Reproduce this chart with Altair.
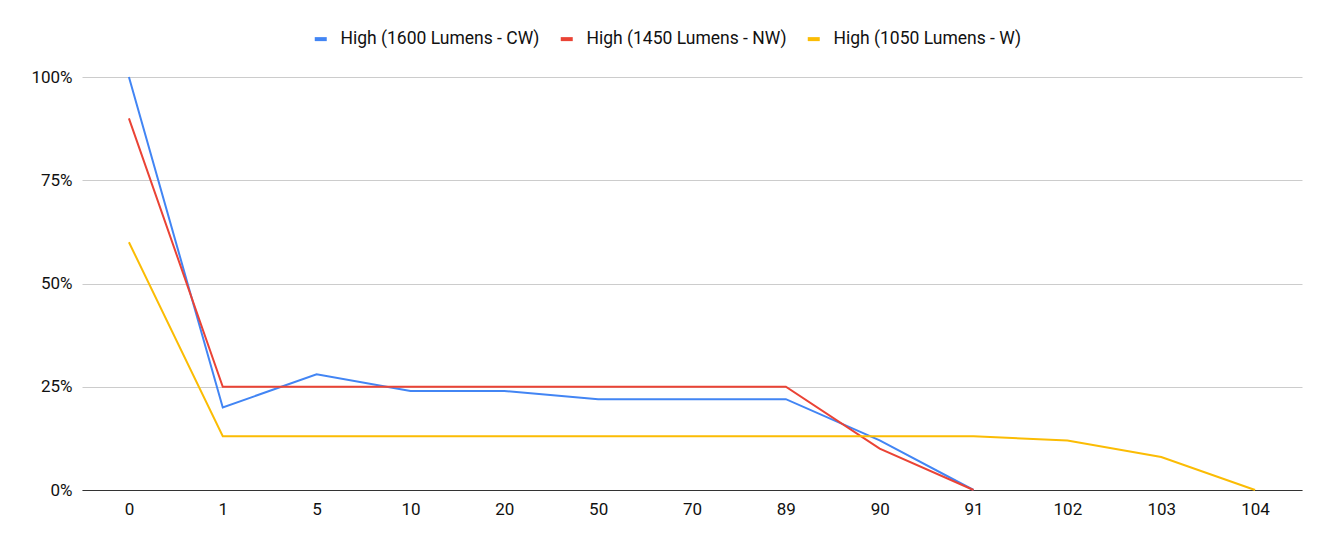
import altair as alt
import pandas as pd

categories = ["0", "1", "5", "10", "20", "50", "70", "89", "90", "91", "102", "103", "104"]
series_names = ["High (1600 Lumens - CW)", "High (1450 Lumens - NW)", "High (1050 Lumens - W)"]
cw = [1.00, 0.20, 0.28, 0.24, 0.24, 0.22, 0.22, 0.22, 0.12, 0.0, None, None, None]
nw = [0.90, 0.25, 0.25, 0.25, 0.25, 0.25, 0.25, 0.25, 0.10, 0.0, None, None, None]
w = [0.60, 0.13, 0.13, 0.13, 0.13, 0.13, 0.13, 0.13, 0.13, 0.13, 0.12, 0.08, 0.0]
colors = ["#4285F4", "#EA4335", "#FBBC04"]

rows = []
for name, vals in zip(series_names, [cw, nw, w]):
    for i, (c, v) in enumerate(zip(categories, vals)):
        if v is not None:
            rows.append({"x": c, "value": v, "series": name, "idx": i})
df = pd.DataFrame(rows)

font = "Roboto"

chart = alt.Chart(df).mark_line(strokeWidth=2).encode(
    x=alt.X("x:N", sort=categories, scale=alt.Scale(type="point", padding=0.5),
            axis=alt.Axis(title=None, labelAngle=0, ticks=False, domainColor="#333333",
                          labelPadding=11, labelFontSize=17, labelColor="#111111", labelFont=font)),
    y=alt.Y("value:Q", scale=alt.Scale(domain=[0, 1], nice=False),
            axis=alt.Axis(title=None, format=".0%", values=[0, 0.25, 0.5, 0.75, 1.0],
                          ticks=False, domain=False, gridColor="#cccccc", labelPadding=10,
                          labelFontSize=17, labelColor="#111111", labelFont=font)),
    color=alt.Color("series:N", sort=series_names,
                    scale=alt.Scale(domain=series_names, range=colors),
                    legend=alt.Legend(title=None, orient="none", direction="horizontal",
                                      legendX=230, legendY=-47,
                                      symbolType="stroke", symbolSize=144, symbolStrokeWidth=4,
                                      labelFontSize=17.5, labelFont=font, labelColor="#111111",
                                      labelLimit=400, labelOffset=11,
                                      columnPadding=12)),
    detail="series:N",
    order="idx:Q",
).properties(
    width=1220, height=413,
    autosize=alt.AutoSizeParams(type="none"),
    padding={"left": 74, "top": 69, "right": 20, "bottom": 40},
).configure_view(stroke=None).configure_axisX(grid=False)

chart.save("out.html", embed_options={"renderer": "svg", "actions": False})
